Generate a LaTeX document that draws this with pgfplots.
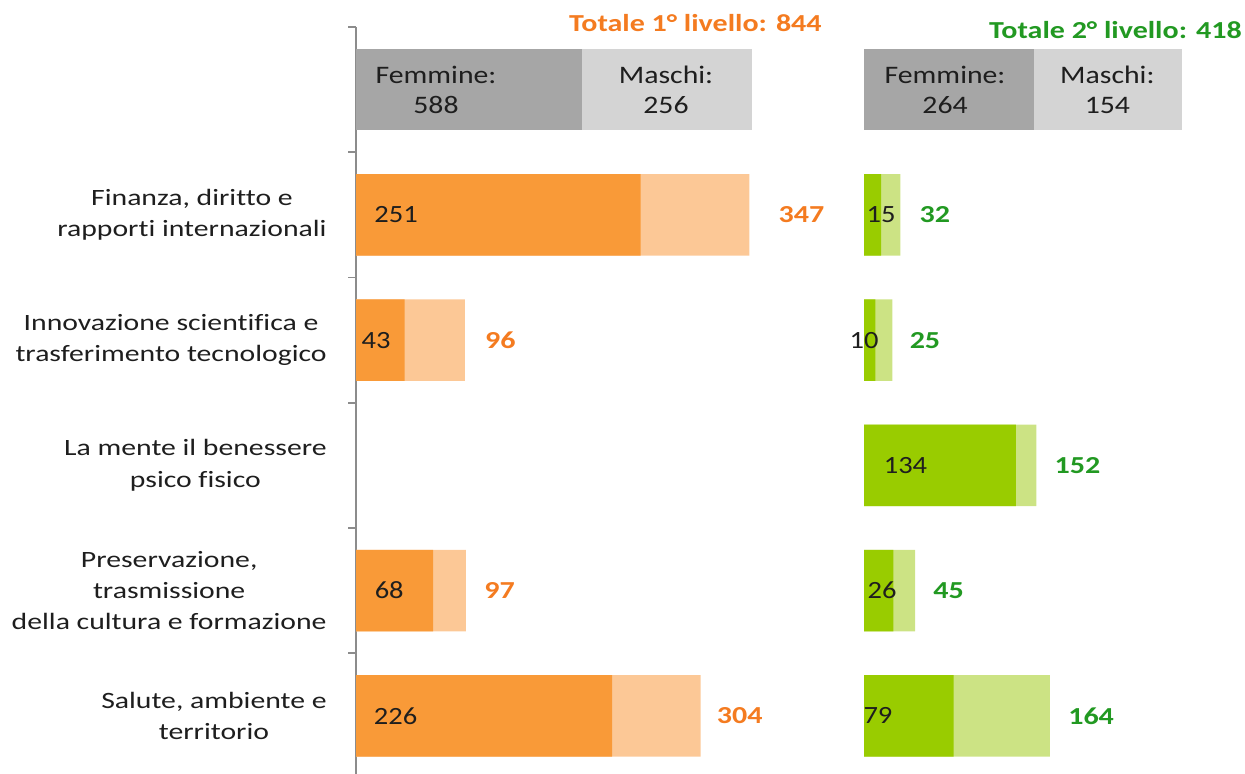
\documentclass[border=0pt]{standalone}
\usepackage{pgfplots}
\usepackage{pgfplotstable}
\pgfplotsset{compat=1.18}
\usepackage{fontspec}
\setmainfont{Carlito}[FakeStretch=1.18, Ligatures={NoCommon}]
\newfontfamily\catfont{Carlito}[FakeStretch=1.27, Ligatures={NoCommon}]
\newfontfamily\valfont{Carlito}[FakeStretch=1.15]
\newfontfamily\totfont{Carlito}[FakeStretch=1.23]
\definecolor{orA}{HTML}{F99A38}
\definecolor{orB}{HTML}{FCC896}
\definecolor{orT}{HTML}{F47B20}
\definecolor{grA}{HTML}{99CC00}
\definecolor{grB}{HTML}{CCE384}
\definecolor{grT}{HTML}{229922}
\definecolor{gyA}{HTML}{A6A6A6}
\definecolor{gyB}{HTML}{D4D4D4}
\definecolor{axg}{HTML}{8C8C8C}
\definecolor{txt}{HTML}{1E1E1E}
% left panel totals (row, total, label gap in pt)
\pgfplotstableread{
r t sh
1 347 14.5
2 96 10
4 97 9
5 304 8
}\lefttot
\pgfplotstableread{
r t sh
1 32 9.5
2 25 8.5
3 152 9
4 45 9
5 164 9
}\righttot
\pgfplotsset{
  panel/.style={scale only axis, clip=false, y dir=reverse, ymin=-0.5, ymax=5.463,
    xmin=0, height=373.4pt, /pgf/number format/assume math mode=true},
  hb/.style={xbar, bar width=0.65, bar shift=0pt, draw=none, fill=#1},
  tot/.style={nodes near coords, point meta=x, nodes near coords align=horizontal,
    visualization depends on={\thisrow{sh} \as \sh},
    every node near coord/.append style={font=\totfont\bfseries\fontsize{12.2}{14}\selectfont,
      text=#1, inner sep=0pt, xshift=\sh pt}},
  lab/.style={draw=none, mark=none, nodes near coords, point meta=explicit symbolic,
    nodes near coords align=center,
    every node near coord/.append style={font=\valfont\fontsize{12.4}{14}\selectfont,
      text=txt, inner sep=0pt, anchor=center}},
}
\begin{document}
\begin{tikzpicture}
\useasboundingbox (0,0) rectangle (622.5pt,-387pt);
\begin{axis}[panel, at={(178pt,-13.5pt)}, anchor=north west, xmax=500, width=283.375pt,
  axis x line=none, axis y line*=left, axis line style={-, axg, line width=0.9pt},
  ytick={1,2,3,4,5},
  yticklabels={{Finanza, diritto e\\rapporti internazionali},
    {Innovazione scientifica e\\trasferimento tecnologico},
    {La mente il benessere\\psico fisico},
    {Preservazione,\\trasmissione\\della cultura e formazione},
    {Salute, ambiente e\\territorio}},
  major tick length=0pt,
  minor ytick={-0.5,0.5,1.5,2.5,3.5,4.5}, minor tick length=4pt, tick align=outside,
  minor tick style={axg, line width=0.9pt},
  yticklabel style={font=\catfont\fontsize{11.7}{15.6}\selectfont, align=center,
    anchor=east, inner sep=0pt, xshift=-14.5pt, text=txt},
]
\addplot[hb=gyB] coordinates {(349.4,0)};
\addplot[hb=gyA] coordinates {(199.4,0)};
\addplot[hb=orB, tot=orT] table[x=t, y=r] {\lefttot};
\addplot[hb=orA] coordinates {(251,1) (43,2) (68,4) (226,5)};
\addplot[lab] coordinates {(35.3,1) [251] (17.7,2) [43] (29.3,4) [68] (35,5) [226]};
\node[font=\fontsize{12.6}{15}\selectfont, align=center, text=txt] at (axis cs:70.6,0) {Femmine:\\588};
\node[font=\fontsize{12.6}{15}\selectfont, align=center, text=txt] at (axis cs:273.5,0) {Maschi:\\256};
\node[anchor=base east, inner sep=0pt, font=\totfont\bfseries\fontsize{12.2}{14}\selectfont, text=orT]
  at (axis cs:411.1,-0.4635) {Totale 1° livello: 844};
\end{axis}
\begin{axis}[panel, at={(432pt,-13.5pt)}, anchor=north west, xmax=330, width=187.03pt,
  hide axis]
\addplot[hb=gyB] coordinates {(280.5,0)};
\addplot[hb=gyA] coordinates {(150,0)};
\addplot[hb=grB, tot=grT] table[x=t, y=r] {\righttot};
\addplot[hb=grA] coordinates {(15,1) (10,2) (134,3) (26,4) (79,5)};
\addplot[lab] coordinates {(15,1) [15] (0,2) [10] (36.6,3) [134] (16,4) [26] (12.3,5) [79]};
\node[font=\fontsize{12.6}{15}\selectfont, align=center, text=txt] at (axis cs:71.5,0) {Femmine:\\264};
\node[font=\fontsize{12.6}{15}\selectfont, align=center, text=txt] at (axis cs:214.7,0) {Maschi:\\154};
\node[anchor=base east, inner sep=0pt, font=\totfont\bfseries\fontsize{12.2}{14}\selectfont, text=grT]
  at (axis cs:333.5,-0.411) {Totale 2° livello: 418};
\end{axis}
\end{tikzpicture}
\end{document}
